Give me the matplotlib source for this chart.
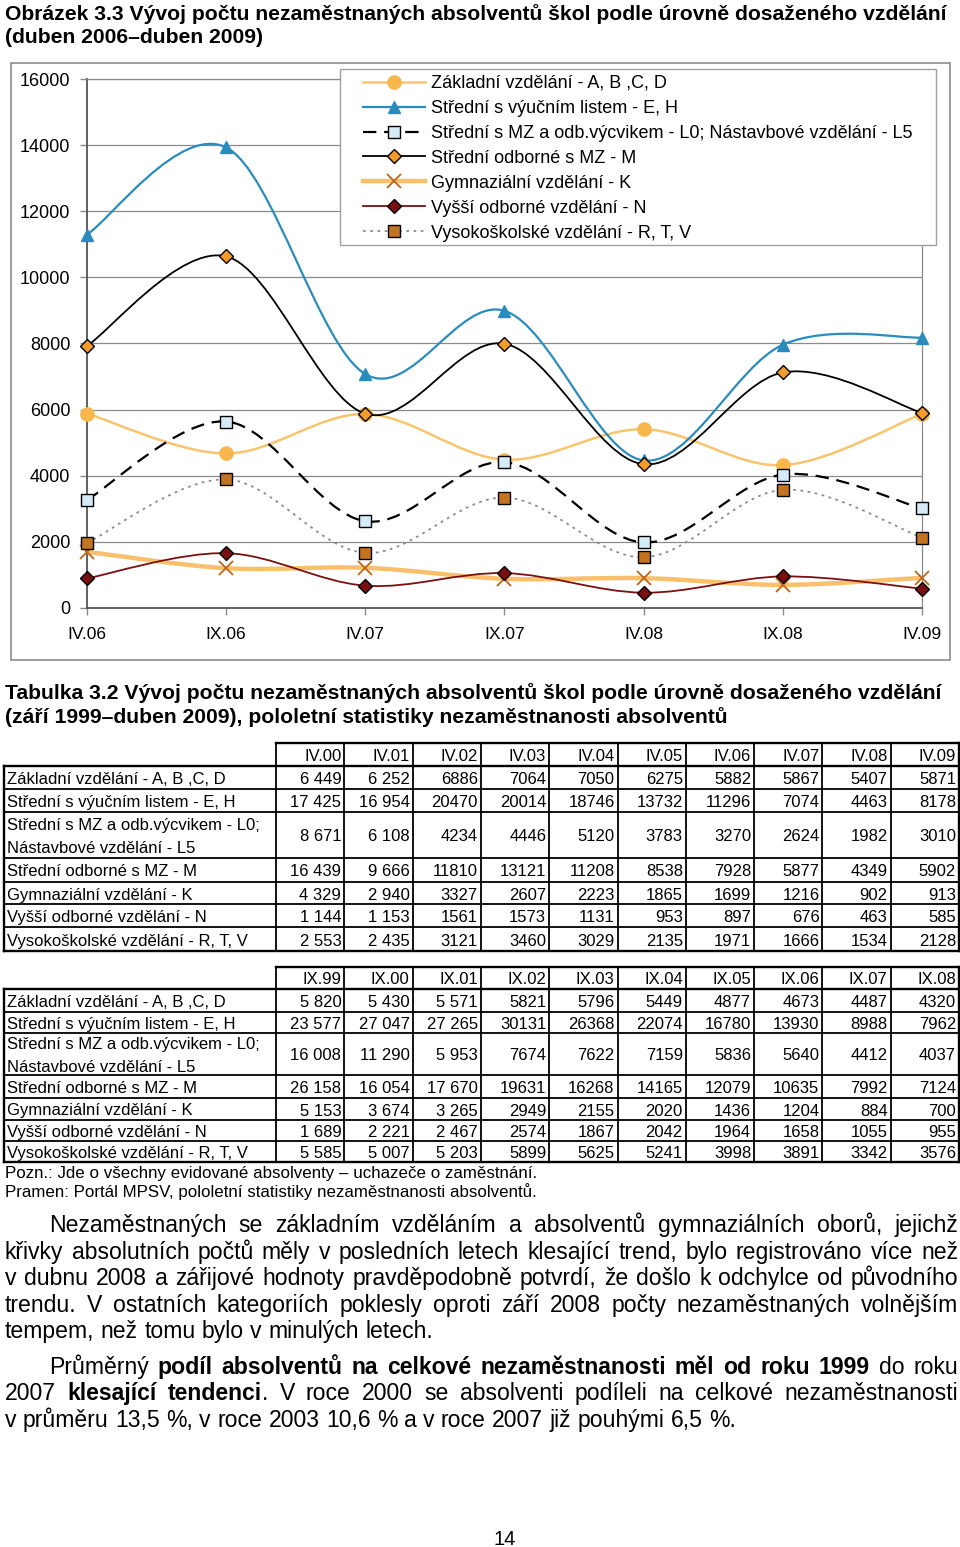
import matplotlib
matplotlib.use('Agg')
import matplotlib.pyplot as plt
from matplotlib import font_manager
from matplotlib.lines import Line2D
from matplotlib.patches import Rectangle, PathPatch
from matplotlib.path import Path

W, H = 960, 1547

# Chart data: half-yearly counts IV.06 - IV.09
periods = ['IV.06', 'IX.06', 'IV.07', 'IX.07', 'IV.08', 'IX.08', 'IV.09']
zakladni = [5882, 4673, 5867, 4487, 5407, 4320, 5871]
vyucni = [11296, 13930, 7074, 8988, 4463, 7962, 8178]
mz_vycvik = [3270, 5640, 2624, 4412, 1982, 4037, 3010]
odborne_mz = [7928, 10635, 5877, 7992, 4349, 7124, 5902]
gymnazium = [1699, 1204, 1216, 884, 902, 700, 913]
vyssi_odb = [897, 1658, 676, 1055, 463, 955, 585]
vysoka = [1971, 3891, 1666, 3342, 1534, 3576, 2128]
y_ticks = [0, 2000, 4000, 6000, 8000, 10000, 12000, 14000, 16000]

legend_labels = [
    'Základní vzdělání - A, B ,C, D',
    'Střední s výučním listem - E, H',
    'Střední s MZ a odb.výcvikem - L0; Nástavbové vzdělání - L5',
    'Střední odborné s MZ - M',
    'Gymnaziální vzdělání - K',
    'Vyšší odborné vzdělání - N',
    'Vysokoškolské vzdělání - R, T, V',
]

# Table data
row_labels = [
    ['Základní vzdělání - A, B ,C, D'],
    ['Střední s výučním listem - E, H'],
    ['Střední s MZ a odb.výcvikem - L0;', 'Nástavbové vzdělání - L5'],
    ['Střední odborné s MZ - M'],
    ['Gymnaziální vzdělání - K'],
    ['Vyšší odborné vzdělání - N'],
    ['Vysokoškolské vzdělání - R, T, V'],
]
april_cols = ['IV.00', 'IV.01', 'IV.02', 'IV.03', 'IV.04', 'IV.05', 'IV.06', 'IV.07', 'IV.08', 'IV.09']
april_vals = [
    [6449, 6252, 6886, 7064, 7050, 6275, 5882, 5867, 5407, 5871],
    [17425, 16954, 20470, 20014, 18746, 13732, 11296, 7074, 4463, 8178],
    [8671, 6108, 4234, 4446, 5120, 3783, 3270, 2624, 1982, 3010],
    [16439, 9666, 11810, 13121, 11208, 8538, 7928, 5877, 4349, 5902],
    [4329, 2940, 3327, 2607, 2223, 1865, 1699, 1216, 902, 913],
    [1144, 1153, 1561, 1573, 1131, 953, 897, 676, 463, 585],
    [2553, 2435, 3121, 3460, 3029, 2135, 1971, 1666, 1534, 2128],
]
sept_cols = ['IX.99', 'IX.00', 'IX.01', 'IX.02', 'IX.03', 'IX.04', 'IX.05', 'IX.06', 'IX.07', 'IX.08']
sept_vals = [
    [5820, 5430, 5571, 5821, 5796, 5449, 4877, 4673, 4487, 4320],
    [23577, 27047, 27265, 30131, 26368, 22074, 16780, 13930, 8988, 7962],
    [16008, 11290, 5953, 7674, 7622, 7159, 5836, 5640, 4412, 4037],
    [26158, 16054, 17670, 19631, 16268, 14165, 12079, 10635, 7992, 7124],
    [5153, 3674, 3265, 2949, 2155, 2020, 1436, 1204, 884, 700],
    [1689, 2221, 2467, 2574, 1867, 2042, 1964, 1658, 1055, 955],
    [5585, 5007, 5203, 5899, 5625, 5241, 3998, 3891, 3342, 3576],
]

title_lines = ['Obrázek 3.3 Vývoj počtu nezaměstnaných absolventů škol podle úrovně dosaženého vzdělání',
               '(duben 2006–duben 2009)']
table_title = ['Tabulka 3.2 Vývoj počtu nezaměstnaných absolventů škol podle úrovně dosaženého vzdělání',
               '(září 1999–duben 2009), pololetní statistiky nezaměstnanosti absolventů']
notes = ['Pozn.: Jde o všechny evidované absolventy – uchazeče o zaměstnání.',
         'Pramen: Portál MPSV, pololetní statistiky nezaměstnanosti absolventů.']
para1 = ['Nezaměstnaných se základním vzděláním a absolventů gymnaziálních oborů, jejichž',
         'křivky absolutních počtů měly v posledních letech klesající trend, bylo registrováno více než',
         'v dubnu 2008 a zářijové hodnoty pravděpodobně potvrdí, že došlo k odchylce od původního',
         'trendu. V ostatních kategoriích poklesly oproti září 2008 počty nezaměstnaných volnějším',
         'tempem, než tomu bylo v minulých letech.']
para2 = ['Průměrný *podíl absolventů na celkové nezaměstnanosti měl od roku 1999* do roku',
         '2007 *klesající tendenci*. V roce 2000 se absolventi podíleli na celkové nezaměstnanosti',
         'v průměru 13,5 %, v roce 2003 10,6 % a v roce 2007 již pouhými 6,5 %.']

installed = {f.name for f in font_manager.fontManager.ttflist}
SANS = 'Liberation Sans'
NARROW = 'Liberation Sans Narrow' if 'Liberation Sans Narrow' in installed else SANS

fig = plt.figure(figsize=(W / 100, H / 100), dpi=100)
renderer = fig.canvas.get_renderer()


def fx(x):
    return x / W


def fy(y):
    return 1 - y / H


def width_of(t):
    return t.get_window_extent(renderer).width


def fit_size(s, target, family, weight='normal'):
    t = fig.text(0, 0, s, fontsize=20, family=family, weight=weight)
    w = width_of(t)
    t.remove()
    return 20 * target / w


def put(x, y, s, fs, family=SANS, weight='normal', ha='left'):
    return fig.text(fx(x), fy(y), s, fontsize=fs, family=family, weight=weight,
                    ha=ha, va='baseline')


def hline(x0, x1, y, lw, color='black'):
    fig.add_artist(Line2D([fx(x0), fx(x1)], [fy(y), fy(y)], transform=fig.transFigure,
                          lw=lw, color=color, solid_capstyle='projecting'))


def vline(x, y0, y1, lw, color='black'):
    fig.add_artist(Line2D([fx(x), fx(x)], [fy(y0), fy(y1)], transform=fig.transFigure,
                          lw=lw, color=color, solid_capstyle='projecting'))


# ---------- titles ----------
fs_title = fit_size(title_lines[0], 939, NARROW, 'bold')
put(5, 20, title_lines[0], fs_title, NARROW, 'bold')
put(5, 43, title_lines[1], fs_title, NARROW, 'bold')

# ---------- chart ----------
fig.add_artist(Rectangle((fx(11), fy(660)), (950 - 11) / W, (660 - 63) / H,
                         transform=fig.transFigure, fill=False, ec='#8c8c8c', lw=1.2))

ax = fig.add_axes([fx(87), fy(608), (922 - 87) / W, (608 - 79) / H])
ax.set_xlim(0, len(periods) - 1)
ax.set_ylim(y_ticks[0], y_ticks[-1])
ax.set_yticks(y_ticks)
ax.set_yticklabels([str(v) for v in y_ticks], family=SANS, fontsize=13)
ax.set_xticks(range(len(periods)))
ax.set_xticklabels(periods, family=SANS, fontsize=12.5)
ax.tick_params(axis='y', direction='out', length=5, width=1, color='#8a8a8a', pad=7)
ax.tick_params(axis='x', direction='out', length=5, width=1, color='#8a8a8a', pad=9)
ax.yaxis.grid(True, color='#8a8a8a', lw=0.9)
ax.set_axisbelow(True)
for side in ('left', 'bottom'):
    ax.spines[side].set_color('#555555')
    ax.spines[side].set_linewidth(1.3)
for side in ('top', 'right'):
    ax.spines[side].set_color('#8a8a8a')
    ax.spines[side].set_linewidth(0.9)

styles = [
    dict(color='#F9C46E', lw=1.8, ls='-', marker='o', ms=9.5, mfc='#F8B64C', mec='#F8B64C', mew=1),
    dict(color='#2A8CBE', lw=1.6, ls='-', marker='^', ms=9, mfc='#2A8CBE', mec='#2A8CBE', mew=1),
    dict(color='black', lw=1.6, ls=(0, (6, 3.5)), marker='s', ms=8.5, mfc='#D6EBF8', mec='black', mew=1),
    dict(color='black', lw=1.3, ls='-', marker='D', ms=7.5, mfc='#F39C2C', mec='black', mew=1),
    dict(color='#F9C06C', lw=3.2, ls='-', marker='x', ms=10, mfc='#C0651E', mec='#C0651E', mew=1.3),
    dict(color='#7A1010', lw=1.3, ls='-', marker='D', ms=7.5, mfc='#7A0F0F', mec='black', mew=1),
    dict(color='#8C8C8C', lw=1.3, ls=(0, (1.5, 2.5)), marker='s', ms=8.5, mfc='#C47420', mec='black', mew=1),
]
series = [zakladni, vyucni, mz_vycvik, odborne_mz, gymnazium, vyssi_odb, vysoka]


def smooth_path(xs, ys):
    # Excel-like smoothed line: Catmull-Rom segments as cubic Bezier curves
    pts = list(zip(xs, ys))
    n = len(pts)
    verts = [pts[0]]
    codes = [Path.MOVETO]
    for i in range(n - 1):
        p0 = pts[max(i - 1, 0)]
        p1 = pts[i]
        p2 = pts[i + 1]
        p3 = pts[min(i + 2, n - 1)]
        c1 = (p1[0] + (p2[0] - p0[0]) / 6, p1[1] + (p2[1] - p0[1]) / 6)
        c2 = (p2[0] - (p3[0] - p1[0]) / 6, p2[1] - (p3[1] - p1[1]) / 6)
        verts += [c1, c2, p2]
        codes += [Path.CURVE4] * 3
    return Path(verts, codes)


xs = list(range(len(periods)))
handles = []
for k, (vals, st) in enumerate(zip(series, styles)):
    ax.add_patch(PathPatch(smooth_path(xs, vals), fill=False, ec=st['color'], lw=st['lw'],
                           ls=st['ls'], zorder=3 + k, clip_on=False))
    ax.plot(xs, vals, ls='none', marker=st['marker'], ms=st['ms'], mfc=st['mfc'],
            mec=st['mec'], mew=st['mew'], zorder=3 + k, clip_on=False)
    handles.append(Line2D([], [], color=st['color'], lw=st['lw'], ls=st['ls'],
                          marker=st['marker'], ms=st['ms'], mfc=st['mfc'],
                          mec=st['mec'], mew=st['mew']))

# legend frame drawn separately so the padding can differ from the row layout
fig.add_artist(Rectangle((fx(340), fy(245)), (936 - 340) / W, (245 - 69) / H,
                         transform=fig.transFigure, fc='white', ec='#a0a0a0', lw=1.0, zorder=4))
fs_leg = fit_size(legend_labels[0], 236, SANS)
leg_px = fs_leg * 100 / 72
leg = fig.legend(handles, legend_labels, loc='upper left', bbox_to_anchor=(fx(363), fy(75)),
                 bbox_transform=fig.transFigure, frameon=False, prop=dict(family=SANS, size=fs_leg),
                 handlelength=62 / leg_px, handletextpad=6 / leg_px, borderaxespad=0, borderpad=0,
                 labelspacing=0.44)
leg.set_zorder(5)

# ---------- table ----------
fs_tt = fit_size(table_title[0], 935, SANS, 'bold')
put(5, 699, table_title[0], fs_tt, SANS, 'bold')
put(5, 723, table_title[1], fs_tt, SANS, 'bold')

col_edges = [276 + k * (959 - 276) / 10 for k in range(11)]
fs_cell = fit_size(row_labels[0][0], 218, SANS)


def fmt(v, col, n_grouped):
    if col < n_grouped and v >= 1000:
        return '{:,}'.format(v).replace(',', ' ')
    return str(v)


def draw_table(cols, vals, head_top, row_edges, n_grouped):
    left, right = 4, col_edges[-1]
    head_bot = row_edges[0]
    bottom = row_edges[-1]
    # header cells
    hline(col_edges[0], right, head_top, 1.7)
    for x in col_edges:
        vline(x, head_top, bottom, 1.3)
    for j, c in enumerate(cols):
        put(col_edges[j + 1] - 3, (head_top + head_bot) / 2 + 6.5, c, fs_cell, ha='right')
    # body
    hline(left, right, head_bot, 1.7)
    for y in row_edges[1:-1]:
        hline(left, right, y, 1.3)
    hline(left, right, bottom, 1.7)
    vline(left, head_bot, bottom, 1.7)
    vline(right, head_top, bottom, 1.7)
    for i, lab in enumerate(row_labels):
        y0, y1 = row_edges[i], row_edges[i + 1]
        yc = (y0 + y1) / 2
        if len(lab) == 1:
            put(7, yc + 6.5, lab[0], fs_cell)
        else:
            put(7, yc - 5, lab[0], fs_cell)
            put(7, yc + 18, lab[1], fs_cell)
        for j, v in enumerate(vals[i]):
            put(col_edges[j + 1] - 3, yc + 6.5, fmt(v, j, n_grouped), fs_cell, ha='right')


draw_table(april_cols, april_vals, 743, [766, 789, 812, 858, 882, 904, 927, 951], 2)
draw_table(sept_cols, sept_vals, 967, [989, 1012, 1033, 1075, 1098, 1120, 1141, 1162], 3)

fs_note = fit_size(notes[0], 526, SANS)
put(5, 1178, notes[0], fs_note)
put(5, 1197, notes[1], fs_note)

# ---------- body text (justified) ----------
fs_body = fit_size(para1[-1], 428, NARROW)
t1 = fig.text(0, 0, 'x x', fontsize=fs_body, family=NARROW)
t2 = fig.text(0, 0, 'xx', fontsize=fs_body, family=NARROW)
space_w = width_of(t1) - width_of(t2)
t1.remove()
t2.remove()


def parse_words(line):
    words = []
    bold = False
    for raw in line.split(' '):
        segs = []
        buf = ''
        for ch in raw:
            if ch == '*':
                if buf:
                    segs.append((buf, bold))
                    buf = ''
                bold = not bold
            else:
                buf += ch
        if buf:
            segs.append((buf, bold))
        words.append(segs)
    return words


def body_line(line, x0, x1, y, justify):
    items = []
    for segs in parse_words(line):
        parts = []
        for s, b in segs:
            t = put(0, y, s, fs_body, NARROW, 'bold' if b else 'normal')
            parts.append((t, width_of(t)))
        items.append(parts)
    total = sum(w for parts in items for _, w in parts)
    gap = (x1 - x0 - total) / (len(items) - 1) if justify else space_w
    x = x0
    for parts in items:
        for t, w in parts:
            t.set_x(fx(x))
            x += w
        x += gap


def paragraph(lines, baselines):
    for i, (line, y) in enumerate(zip(lines, baselines)):
        x0 = 49 if i == 0 else 5
        body_line(line, x0, 958, y, i < len(lines) - 1)


paragraph(para1, [1232, 1259, 1285, 1312, 1338])
paragraph(para2, [1374, 1400, 1427])

put(505, 1545, '14', 14.5, SANS, ha='center')

fig.savefig('out.png', dpi=100)
